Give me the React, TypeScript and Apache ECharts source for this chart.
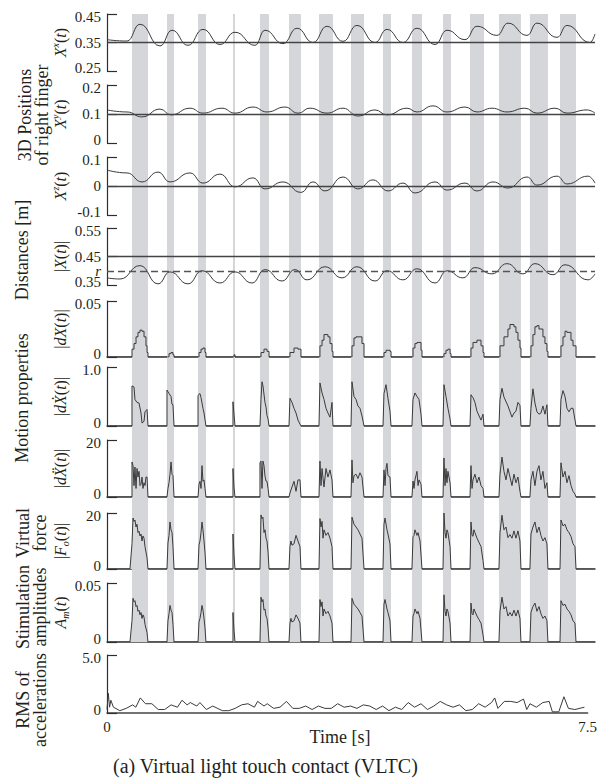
import React, { useEffect, useRef } from "react";
import * as echarts from "echarts";

const FONT = "'Liberation Serif', 'Times New Roman', Times, serif";
const BAND_COLOR = "#d5d6d9";
const LINE_COLOR = "#3a3a3a";
const AXIS_COLOR = "#2e2e2e";
const TEXT_COLOR = "#231f20";

// ---- data (time in seconds) ----
const TIME_MIN = 0;
const TIME_MAX = 7.5;
const TIME_TICKS = [0, 7.5];

const CONTACT_BANDS: [number, number][] = [
  [0.384, 0.63], [0.922, 1.03], [1.399, 1.521], [1.936, 1.967], [2.351, 2.49],
  [2.797, 2.981], [3.258, 3.473], [3.75, 3.95], [4.242, 4.365], [4.687, 4.841],
  [5.164, 5.287], [5.579, 5.794], [6.024, 6.362], [6.5, 6.777], [6.962, 7.208],
];

const POS_X: [number, number][] = [
  [0, 0.36], [0.307, 0.355], [0.507, 0.414], [0.815, 0.338], [0.999, 0.393], [1.245, 0.34],
  [1.475, 0.396], [1.737, 0.343], [1.967, 0.386], [2.274, 0.34], [2.428, 0.393], [2.705, 0.346],
  [2.92, 0.4], [3.166, 0.35], [3.381, 0.407], [3.627, 0.354], [3.842, 0.41], [4.119, 0.35],
  [4.303, 0.396], [4.549, 0.35], [4.764, 0.4], [5.041, 0.343], [5.225, 0.393], [5.502, 0.36],
  [5.686, 0.407], [5.993, 0.375], [6.163, 0.418], [6.455, 0.375], [6.608, 0.418], [6.916, 0.368],
  [7.069, 0.41], [7.423, 0.35], [7.5, 0.38],
];

const POS_Y: [number, number][] = [
  [0, 0.114], [0.307, 0.107], [0.538, 0.09], [0.815, 0.117], [0.984, 0.097], [1.276, 0.12],
  [1.475, 0.103], [1.767, 0.12], [1.967, 0.103], [2.244, 0.124], [2.459, 0.107], [2.736, 0.124],
  [2.935, 0.103], [3.12, 0.12], [3.381, 0.103], [3.627, 0.12], [3.857, 0.093], [4.119, 0.114],
  [4.303, 0.097], [4.61, 0.12], [4.764, 0.107], [5.01, 0.128], [5.225, 0.107], [5.502, 0.124],
  [5.686, 0.107], [5.917, 0.12], [6.147, 0.107], [6.424, 0.12], [6.608, 0.103], [6.885, 0.12],
  [7.069, 0.103], [7.377, 0.114], [7.5, 0.103],
];

const POS_Z: [number, number][] = [
  [0, 0.055], [0.307, 0.045], [0.538, 0.014], [0.784, 0.048], [0.968, 0.014], [1.276, 0.045],
  [1.475, 0.01], [1.737, 0.041], [1.967, -0.003], [2.244, 0.028], [2.428, -0.01], [2.705, 0.014],
  [2.98, -0.022], [3.166, 0.014], [3.35, -0.017], [3.627, 0.031], [3.857, -0.01], [4.088, 0.021],
  [4.318, -0.017], [4.549, 0.01], [4.733, -0.024], [5.041, 0.014], [5.225, -0.014], [5.502, 0.01],
  [5.686, -0.017], [5.932, 0.014], [6.163, -0.007], [6.455, 0.031], [6.608, 0.003], [6.916, 0.034],
  [7.069, 0.007], [7.393, 0.034], [7.5, 0.01],
];

const DIST: [number, number][] = [
  [0, 0.375], [0.2, 0.371], [0.507, 0.418], [0.784, 0.354], [0.968, 0.396], [1.245, 0.354],
  [1.46, 0.4], [1.737, 0.357], [1.967, 0.396], [2.228, 0.357], [2.428, 0.404], [2.69, 0.364],
  [2.889, 0.404], [3.074, 0.368], [3.35, 0.414], [3.611, 0.375], [3.842, 0.414], [4.119, 0.364],
  [4.303, 0.4], [4.549, 0.368], [4.764, 0.407], [5.041, 0.357], [5.225, 0.4], [5.471, 0.375],
  [5.655, 0.411], [5.917, 0.389], [6.147, 0.425], [6.393, 0.389], [6.577, 0.425], [6.854, 0.386],
  [7.039, 0.421], [7.393, 0.368], [7.5, 0.389],
];
const R_DIST = 0.397;

const DX: [number, number][] = [
  [0, 0], [0.384, 0], [0.384, 0.007], [0.415, 0.012], [0.446, 0.018], [0.476, 0.022], [0.507, 0.024],
  [0.538, 0.023], [0.569, 0.018], [0.599, 0.01], [0.615, 0.004], [0.63, 0],
  [0.937, 0], [0.953, 0.003], [0.984, 0.004], [1.014, 0.002], [1.03, 0],
  [1.399, 0], [1.414, 0.004], [1.445, 0.007], [1.475, 0.008], [1.506, 0.004], [1.521, 0],
  [1.936, 0], [1.952, 0.002], [1.967, 0],
  [2.351, 0], [2.367, 0.004], [2.413, 0.007], [2.459, 0.005], [2.49, 0],
  [2.797, 0], [2.812, 0.004], [2.874, 0.008], [2.935, 0.007], [2.981, 0],
  [3.258, 0], [3.273, 0.01], [3.305, 0.015], [3.335, 0.02], [3.366, 0.02], [3.396, 0.018],
  [3.427, 0.012], [3.458, 0.005], [3.473, 0],
  [3.75, 0], [3.765, 0.01], [3.796, 0.017], [3.827, 0.018], [3.888, 0.018], [3.919, 0.012], [3.95, 0],
  [4.242, 0], [4.257, 0.004], [4.288, 0.006], [4.349, 0.005], [4.365, 0],
  [4.687, 0], [4.703, 0.008], [4.733, 0.012], [4.764, 0.013], [4.826, 0.006], [4.841, 0],
  [5.164, 0], [5.179, 0.003], [5.21, 0.006], [5.24, 0.007], [5.272, 0.003], [5.287, 0],
  [5.579, 0], [5.594, 0.008], [5.625, 0.013], [5.686, 0.015], [5.748, 0.01], [5.779, 0.004], [5.794, 0],
  [6.024, 0], [6.04, 0.01], [6.101, 0.018], [6.162, 0.025], [6.193, 0.029], [6.255, 0.027],
  [6.285, 0.022], [6.316, 0.015], [6.347, 0.008], [6.362, 0],
  [6.5, 0], [6.516, 0.01], [6.546, 0.02], [6.577, 0.027], [6.608, 0.028], [6.639, 0.025],
  [6.7, 0.018], [6.731, 0.012], [6.761, 0.005], [6.777, 0],
  [6.962, 0], [6.977, 0.01], [7.008, 0.018], [7.039, 0.023], [7.069, 0.022], [7.131, 0.015],
  [7.162, 0.01], [7.208, 0], [7.5, 0],
];

const DXDOT: [number, number][] = [
  [0, 0], [0.384, 0], [0.384, 0.68], [0.415, 0.66], [0.43, 0.45], [0.461, 0.4], [0.492, 0.39],
  [0.523, 0.22], [0.538, 0.05], [0.569, 0.08], [0.584, 0.24], [0.615, 0.28], [0.63, 0],
  [0.922, 0], [0.922, 0.61], [0.953, 0.55], [0.984, 0.5], [0.999, 0.37], [1.014, 0.36], [1.03, 0],
  [1.399, 0], [1.399, 0.52], [1.429, 0.55], [1.445, 0.48], [1.475, 0.3], [1.491, 0.22], [1.521, 0],
  [1.936, 0], [1.936, 0.41], [1.952, 0.2], [1.967, 0],
  [2.351, 0], [2.367, 0.45], [2.382, 0.75], [2.397, 0.68], [2.428, 0.4], [2.444, 0.32],
  [2.459, 0.18], [2.475, 0.12], [2.49, 0],
  [2.797, 0], [2.812, 0.47], [2.843, 0.4], [2.874, 0.3], [2.905, 0.22], [2.935, 0.1], [2.981, 0],
  [3.258, 0], [3.273, 0.73], [3.305, 0.56], [3.335, 0.45], [3.366, 0.3], [3.396, 0.22],
  [3.427, 0.15], [3.458, 0.4], [3.473, 0],
  [3.75, 0], [3.765, 0.75], [3.796, 0.5], [3.827, 0.45], [3.857, 0.34], [3.888, 0.3], [3.919, 0.17], [3.95, 0],
  [4.242, 0], [4.257, 0.55], [4.288, 0.7], [4.318, 0.47], [4.349, 0.25], [4.365, 0],
  [4.687, 0], [4.703, 0.45], [4.733, 0.56], [4.764, 0.5], [4.795, 0.45], [4.826, 0.2], [4.841, 0],
  [5.164, 0], [5.179, 0.7], [5.21, 0.5], [5.24, 0.3], [5.272, 0.12], [5.287, 0],
  [5.579, 0], [5.594, 0.53], [5.625, 0.48], [5.655, 0.4], [5.686, 0.25], [5.748, 0.1], [5.779, 0.2], [5.794, 0],
  [6.024, 0], [6.04, 0.45], [6.07, 0.64], [6.101, 0.49], [6.162, 0.34], [6.224, 0.15], [6.255, 0.22],
  [6.285, 0.25], [6.316, 0.4], [6.347, 0.35], [6.362, 0],
  [6.5, 0], [6.516, 0.3], [6.546, 0.63], [6.577, 0.39], [6.608, 0.24], [6.639, 0.2], [6.669, 0.22],
  [6.7, 0.34], [6.731, 0.2], [6.761, 0.36], [6.777, 0],
  [6.962, 0], [6.977, 0.45], [7.008, 0.6], [7.039, 0.5], [7.069, 0.3], [7.1, 0.24], [7.131, 0.3],
  [7.162, 0.3], [7.208, 0], [7.5, 0],
];

const DXDDOT: [number, number][] = [
  [0, 0], [0.384, 0], [0.384, 12.3], [0.4, 11], [0.415, 4], [0.43, 10.5], [0.446, 3], [0.461, 10],
  [0.476, 7], [0.492, 9], [0.507, 4], [0.523, 4.5], [0.538, 7], [0.553, 3], [0.569, 5], [0.584, 4],
  [0.599, 7], [0.615, 7], [0.63, 0],
  [0.922, 0], [0.937, 3], [0.953, 5], [0.968, 8], [0.984, 12.3], [0.999, 8], [1.014, 7.5], [1.03, 0],
  [1.399, 0], [1.414, 4.5], [1.429, 5.5], [1.445, 3], [1.46, 11], [1.475, 5.5], [1.491, 6], [1.506, 3], [1.521, 0],
  [1.936, 0], [1.936, 10], [1.952, 3.5], [1.967, 0],
  [2.351, 0], [2.351, 12], [2.367, 12.6], [2.382, 3], [2.397, 12.6], [2.413, 11], [2.428, 7.4],
  [2.444, 5.6], [2.459, 5.5], [2.475, 3], [2.49, 0],
  [2.797, 0], [2.812, 1.4], [2.843, 3.5], [2.874, 5.5], [2.905, 2], [2.935, 6], [2.966, 6], [2.981, 0],
  [3.258, 0], [3.273, 12.6], [3.289, 4], [3.305, 10], [3.335, 3.5], [3.366, 10], [3.396, 7],
  [3.427, 9.5], [3.458, 6], [3.473, 0],
  [3.75, 0], [3.765, 13], [3.78, 5], [3.796, 7.5], [3.827, 8], [3.857, 6.5], [3.888, 8.5], [3.919, 7], [3.95, 0],
  [4.242, 0], [4.257, 9.5], [4.273, 4], [4.288, 10], [4.303, 11.8], [4.318, 7.5], [4.349, 7], [4.365, 0],
  [4.687, 0], [4.703, 5.6], [4.718, 3], [4.733, 6], [4.764, 9], [4.78, 4], [4.795, 6], [4.826, 4.5], [4.841, 0],
  [5.164, 0], [5.179, 13.7], [5.195, 4], [5.21, 10], [5.225, 5], [5.24, 9], [5.272, 5], [5.287, 0],
  [5.579, 0], [5.594, 11], [5.61, 3], [5.625, 6], [5.655, 8], [5.686, 5], [5.717, 7], [5.748, 4],
  [5.779, 3], [5.794, 0],
  [6.024, 0], [6.04, 8], [6.07, 14], [6.101, 9], [6.132, 6], [6.162, 10], [6.193, 7], [6.224, 4],
  [6.255, 8], [6.285, 5], [6.316, 7], [6.347, 2], [6.362, 0],
  [6.5, 0], [6.516, 6], [6.546, 9], [6.577, 4], [6.608, 9], [6.639, 11], [6.669, 6], [6.7, 9],
  [6.731, 3], [6.761, 5], [6.777, 0],
  [6.962, 0], [6.977, 12], [7.008, 7], [7.039, 9], [7.069, 5], [7.1, 7.5], [7.131, 4], [7.162, 2],
  [7.192, 1], [7.208, 0], [7.5, 0],
];

const FORCE: [number, number][] = [
  [0, 0], [0.353, 0], [0.384, 9], [0.4, 18.2], [0.415, 17], [0.43, 17.5], [0.446, 15], [0.461, 16],
  [0.476, 13], [0.492, 13.5], [0.507, 11.8], [0.523, 12.5], [0.538, 10], [0.553, 11.8], [0.569, 11],
  [0.584, 8], [0.615, 4], [0.63, 0],
  [0.922, 0], [0.937, 9.3], [0.953, 12], [0.968, 16.8], [0.984, 14], [0.999, 13], [1.014, 8], [1.03, 0],
  [1.399, 0], [1.414, 8.6], [1.429, 10], [1.445, 13], [1.46, 16.8], [1.475, 14], [1.491, 10], [1.506, 6], [1.521, 0],
  [1.936, 0], [1.936, 12.5], [1.952, 5], [1.967, 0],
  [2.351, 0], [2.367, 19.3], [2.382, 18], [2.397, 18.5], [2.413, 13], [2.428, 14], [2.444, 11],
  [2.459, 10], [2.475, 6], [2.49, 0],
  [2.797, 0], [2.812, 8], [2.827, 10], [2.843, 8.5], [2.874, 9], [2.905, 12], [2.935, 10], [2.966, 8], [2.981, 0],
  [3.258, 0], [3.273, 18], [3.289, 15], [3.305, 17], [3.32, 11], [3.335, 14], [3.366, 12], [3.396, 13],
  [3.427, 11], [3.458, 8], [3.473, 0],
  [3.75, 0], [3.765, 18.5], [3.796, 16], [3.827, 15], [3.857, 14], [3.888, 12.5], [3.919, 11], [3.95, 0],
  [4.242, 0], [4.257, 16], [4.273, 18.2], [4.303, 14], [4.318, 12.5], [4.349, 9], [4.365, 0],
  [4.687, 0], [4.703, 11.5], [4.718, 12], [4.733, 14], [4.764, 12], [4.78, 13], [4.811, 10], [4.841, 0],
  [5.164, 0], [5.179, 20], [5.195, 13], [5.21, 11], [5.225, 14], [5.24, 13], [5.272, 8], [5.287, 0],
  [5.579, 0], [5.594, 16.8], [5.61, 12], [5.625, 11.7], [5.64, 14], [5.655, 13], [5.686, 11],
  [5.717, 9.5], [5.748, 8], [5.779, 3], [5.794, 0],
  [6.024, 0], [6.04, 13], [6.07, 19.2], [6.101, 14], [6.132, 15], [6.162, 11.2], [6.193, 12.3],
  [6.224, 11], [6.255, 13.6], [6.285, 11], [6.316, 13.6], [6.347, 10], [6.362, 0],
  [6.5, 0], [6.516, 12.5], [6.546, 15], [6.577, 16.8], [6.608, 13], [6.639, 15], [6.669, 12],
  [6.7, 10], [6.731, 11.2], [6.761, 9], [6.777, 0],
  [6.962, 0], [6.977, 17.5], [7.008, 15.4], [7.039, 16], [7.069, 14], [7.1, 13], [7.131, 11.6],
  [7.162, 9], [7.192, 8], [7.208, 0], [7.5, 0],
];

const AMP: [number, number][] = [
  [0, 0], [0.353, 0], [0.384, 0.018], [0.4, 0.037], [0.415, 0.034], [0.43, 0.035], [0.446, 0.03],
  [0.461, 0.031], [0.476, 0.026], [0.492, 0.027], [0.507, 0.023], [0.523, 0.025], [0.538, 0.02],
  [0.553, 0.023], [0.569, 0.021], [0.584, 0.015], [0.615, 0.008], [0.63, 0],
  [0.922, 0], [0.937, 0.018], [0.953, 0.024], [0.968, 0.031], [0.984, 0.027], [0.999, 0.025], [1.014, 0.015], [1.03, 0],
  [1.399, 0], [1.414, 0.017], [1.429, 0.02], [1.445, 0.025], [1.46, 0.031], [1.475, 0.027],
  [1.491, 0.02], [1.506, 0.012], [1.521, 0],
  [1.936, 0], [1.936, 0.025], [1.952, 0.01], [1.967, 0],
  [2.351, 0], [2.367, 0.038], [2.382, 0.034], [2.397, 0.036], [2.413, 0.027], [2.428, 0.028],
  [2.444, 0.022], [2.459, 0.02], [2.475, 0.012], [2.49, 0],
  [2.797, 0], [2.812, 0.016], [2.827, 0.02], [2.843, 0.017], [2.874, 0.018], [2.905, 0.023],
  [2.935, 0.02], [2.966, 0.016], [2.981, 0],
  [3.258, 0], [3.273, 0.036], [3.289, 0.03], [3.305, 0.034], [3.32, 0.022], [3.335, 0.028],
  [3.366, 0.024], [3.396, 0.026], [3.427, 0.022], [3.458, 0.016], [3.473, 0],
  [3.75, 0], [3.765, 0.037], [3.796, 0.032], [3.827, 0.03], [3.857, 0.028], [3.888, 0.025], [3.919, 0.022], [3.95, 0],
  [4.242, 0], [4.257, 0.032], [4.273, 0.036], [4.303, 0.028], [4.318, 0.025], [4.349, 0.018], [4.365, 0],
  [4.687, 0], [4.703, 0.022], [4.718, 0.024], [4.733, 0.028], [4.764, 0.024], [4.78, 0.026], [4.811, 0.02], [4.841, 0],
  [5.164, 0], [5.179, 0.04], [5.195, 0.026], [5.21, 0.022], [5.225, 0.028], [5.24, 0.026], [5.272, 0.016], [5.287, 0],
  [5.579, 0], [5.594, 0.033], [5.61, 0.024], [5.625, 0.023], [5.64, 0.028], [5.655, 0.026],
  [5.686, 0.022], [5.717, 0.019], [5.748, 0.016], [5.779, 0.006], [5.794, 0],
  [6.024, 0], [6.04, 0.026], [6.07, 0.038], [6.101, 0.028], [6.132, 0.03], [6.162, 0.022],
  [6.193, 0.025], [6.224, 0.022], [6.255, 0.027], [6.285, 0.022], [6.316, 0.027], [6.347, 0.02], [6.362, 0],
  [6.5, 0], [6.516, 0.025], [6.546, 0.03], [6.577, 0.033], [6.608, 0.026], [6.639, 0.03],
  [6.669, 0.024], [6.7, 0.02], [6.731, 0.022], [6.761, 0.018], [6.777, 0],
  [6.962, 0], [6.977, 0.035], [7.008, 0.031], [7.039, 0.032], [7.069, 0.028], [7.1, 0.026],
  [7.131, 0.023], [7.162, 0.018], [7.192, 0.016], [7.208, 0], [7.5, 0],
];

const RMS: [number, number][] = [
  [0, 0.3], [0.02, 1.7], [0.04, 0.5], [0.06, 1.1], [0.1, 0.5], [0.2, 0.2], [0.3, 0.4], [0.4, 0.7],
  [0.45, 0.5], [0.52, 1.3], [0.6, 0.8], [0.7, 0.8], [0.8, 0.3], [0.9, 0.3], [1.0, 0.7], [1.1, 0.5],
  [1.17, 1.1], [1.25, 0.7], [1.3, 0.9], [1.4, 0.6], [1.45, 0.9], [1.55, 0.3], [1.65, 0.6], [1.8, 0.2],
  [1.9, 0.2], [2.0, 0.4], [2.1, 0.7], [2.2, 0.8], [2.3, 0.5], [2.35, 1.0], [2.45, 0.6], [2.5, 0.8],
  [2.6, 0.4], [2.7, 0.5], [2.8, 1.0], [2.9, 0.4], [3.0, 0.4], [3.1, 0.6], [3.2, 0.3], [3.3, 0.6],
  [3.4, 0.4], [3.5, 0.4], [3.6, 0.8], [3.7, 0.5], [3.8, 0.6], [3.9, 0.4], [4.0, 0.7], [4.1, 0.6],
  [4.2, 0.3], [4.3, 0.6], [4.4, 0.2], [4.5, 0.5], [4.6, 0.3], [4.7, 0.9], [4.8, 0.5], [4.9, 0.8],
  [5.0, 0.3], [5.1, 0.6], [5.2, 1.0], [5.3, 0.7], [5.4, 0.5], [5.5, 0.7], [5.6, 0.2], [5.7, 0.3],
  [5.8, 0.8], [5.9, 0.5], [6.0, 0.9], [6.05, 1.3], [6.1, 0.4], [6.2, 1.0], [6.3, 1.0], [6.4, 0.9],
  [6.5, 1.2], [6.55, 0.3], [6.6, 0.8], [6.7, 0.5], [6.8, 0.9], [6.9, 1.0], [6.95, 0.1], [7.05, 0.1],
  [7.13, 1.4], [7.2, 0.4], [7.3, 0.3], [7.45, 0.5],
];

type Panel = {
  top: number; bottom: number; min: number; max: number; ticks: number[]; dec: number;
  name: string; data: [number, number][]; kind: "pos" | "motion" | "rms"; step?: boolean;
  refs?: number[]; rRef?: number;
};

const PANELS: Panel[] = [
  { top: 14, bottom: 71, min: 0.25, max: 0.45, ticks: [0.25, 0.35, 0.45], dec: 2, name: "{i|X}{sup|x}({i|t})", data: POS_X, kind: "pos", refs: [0.35] },
  { top: 85, bottom: 143, min: 0, max: 0.2, ticks: [0, 0.1, 0.2], dec: 1, name: "{i|X}{sup|y}({i|t})", data: POS_Y, kind: "pos", refs: [0.1] },
  { top: 157, bottom: 215, min: -0.1, max: 0.1, ticks: [-0.1, 0, 0.1], dec: 1, name: "{i|X}{sup|z}({i|t})", data: POS_Z, kind: "pos", refs: [0] },
  { top: 228, bottom: 285, min: 0.35, max: 0.55, ticks: [0.35, 0.45, 0.55], dec: 2, name: "|{i|X}({i|t})|", data: DIST, kind: "pos", refs: [0.45], rRef: R_DIST },
  { top: 301, bottom: 357, min: 0, max: 0.05, ticks: [0, 0.05], dec: 2, name: "|{i|dX}({i|t})|", data: DX, kind: "motion", step: true },
  { top: 367, bottom: 426, min: 0, max: 1, ticks: [0, 1], dec: 1, name: "|{i|d\u1E8A}({i|t})|", data: DXDOT, kind: "motion" },
  { top: 440, bottom: 497, min: 0, max: 20, ticks: [0, 20], dec: 0, name: "|{i|d\u1E8C}({i|t})|", data: DXDDOT, kind: "motion" },
  { top: 513, bottom: 569, min: 0, max: 20, ticks: [0, 20], dec: 0, name: "|{i|F}{sub|o}({i|t})|", data: FORCE, kind: "motion" },
  { top: 583, bottom: 642, min: 0, max: 0.05, ticks: [0, 0.05], dec: 2, name: "{i|A}{sub|m}({i|t})", data: AMP, kind: "motion" },
  { top: 655, bottom: 713, min: 0, max: 5, ticks: [0, 5], dec: 1, name: "", data: RMS, kind: "rms" },
];

const GROUP_LABELS = [
  { text: "3D Positions\nof right finger", x: 33, y: 115 },
  { text: "Distances [m]", x: 22, y: 250 },
  { text: "Motion properties", x: 22, y: 398 },
  { text: "Virtual\nforce", x: 31, y: 533 },
  { text: "Stimulation\namplitudes", x: 31, y: 607 },
  { text: "RMS of\naccelerations", x: 31, y: 700 },
];

const X_TITLE = "Time [s]";
const CAPTION = "(a) Virtual light touch contact (VLTC)";

export default function App() {
  const ref = useRef<HTMLDivElement>(null);
  useEffect(() => {
    document.body.style.margin = "0";
    if (!ref.current) return;
    const chart = echarts.init(ref.current, null, { renderer: "svg" });
    const LEFT = 107;
    const RIGHT = 5;
    const grids: any[] = [];
    const xAxes: any[] = [];
    const yAxes: any[] = [];
    const series: any[] = [];
    const labelRich = {
      mx: { fontFamily: FONT, fontSize: 15, color: TEXT_COLOR, padding: [6, 0, 0, 0] },
      mn: { fontFamily: FONT, fontSize: 15, color: TEXT_COLOR, padding: [0, 0, 6, 0] },
    };

    PANELS.forEach((p, i) => {
      grids.push({ left: LEFT, right: RIGHT, top: p.top, height: p.bottom - p.top });
      const showX = p.kind !== "pos";
      xAxes.push({
        gridIndex: i, type: "value", min: TIME_MIN, max: TIME_MAX, show: showX,
        axisLine: { show: true, onZero: false, lineStyle: { color: "#444", width: 1.5 } },
        axisTick: { show: false },
        splitLine: { show: false },
        axisLabel: {
          show: i === PANELS.length - 1, customValues: TIME_TICKS, margin: 6,
          fontFamily: FONT, fontSize: 15, color: TEXT_COLOR,
          formatter: (v: number) => (v === 0 ? "0" : String(v)),
        },
      });
      yAxes.push({
        gridIndex: i, type: "value", min: p.min, max: p.max,
        axisLine: { show: true, lineStyle: { color: AXIS_COLOR, width: 1.2 } },
        axisTick: { show: true, inside: true, length: 10, customValues: p.ticks, lineStyle: { color: AXIS_COLOR, width: 1.2 } },
        splitLine: { show: false },
        axisLabel: {
          customValues: p.ticks, margin: 6, fontFamily: FONT, fontSize: 15, color: TEXT_COLOR,
          rich: labelRich,
          formatter: (v: number) => {
            const s = Math.abs(v) < 1e-9 ? "0" : v.toFixed(p.dec);
            if (Math.abs(v - p.max) < 1e-9) return "{mx|" + s + "}";
            if (Math.abs(v - p.min) < 1e-9) return "{mn|" + s + "}";
            return s;
          },
        },
        name: p.name, nameLocation: "middle", nameRotate: 90, nameGap: 37, nameMoveOverlap: false,
        nameTextStyle: {
          fontFamily: FONT, fontSize: 16, color: TEXT_COLOR, lineHeight: 20,
          rich: {
            i: { fontFamily: FONT, fontSize: 16, fontStyle: "italic", color: TEXT_COLOR, lineHeight: 20 },
            sup: { fontFamily: FONT, fontSize: 10, fontStyle: "italic", color: TEXT_COLOR, verticalAlign: "top", lineHeight: 12 },
            sub: { fontFamily: FONT, fontSize: 10, fontStyle: "italic", color: TEXT_COLOR, verticalAlign: "bottom", lineHeight: 12 },
          },
        },
      });
      const markLineData: any[] = (p.refs || []).map((v) => ({ yAxis: v }));
      if (p.rRef !== undefined) {
        markLineData.push({
          yAxis: p.rRef,
          lineStyle: { type: [7, 4], color: "#555", width: 1.3 },
          label: { show: true, position: "start", formatter: "r", distance: 6, fontFamily: FONT, fontStyle: "italic", fontSize: 15, lineHeight: 10, color: TEXT_COLOR },
        });
      }
      series.push({
        type: "line", xAxisIndex: i, yAxisIndex: i, data: p.data, z: 3,
        symbol: "none", showSymbol: false,
        step: p.step ? "end" : false,
        smooth: p.kind === "pos" ? 0.5 : false,
        smoothMonotone: p.kind === "pos" ? "x" : undefined,
        lineStyle: { color: LINE_COLOR, width: 1 },
        areaStyle: p.kind === "motion" ? { color: BAND_COLOR, opacity: 1 } : undefined,
        markLine: markLineData.length
          ? { silent: true, symbol: ["none", "none"], label: { show: false }, lineStyle: { color: "#444", width: 1.3, type: "solid" }, data: markLineData }
          : undefined,
      });
    });

    // full-height grid for contact bands
    const bi = PANELS.length;
    grids.push({ left: LEFT, right: RIGHT, top: PANELS[0].top, height: PANELS[8].bottom - PANELS[0].top });
    xAxes.push({ gridIndex: bi, type: "value", min: TIME_MIN, max: TIME_MAX, show: false });
    yAxes.push({ gridIndex: bi, type: "value", min: 0, max: 1, show: false });
    series.push({
      type: "line", xAxisIndex: bi, yAxisIndex: bi, data: [[0, -1]], z: 0, symbol: "none",
      lineStyle: { opacity: 0 },
      markArea: {
        silent: true, itemStyle: { color: BAND_COLOR },
        data: CONTACT_BANDS.map(([a, b]) => [{ xAxis: a }, { xAxis: b }]),
      },
    });

    const graphic: any[] = GROUP_LABELS.map((g) => ({
      type: "text", x: g.x, y: g.y, rotation: Math.PI / 2,
      style: { text: g.text, fontFamily: FONT, fontSize: 18, fill: TEXT_COLOR, align: "center", verticalAlign: "middle", lineHeight: 17 },
    }));
    graphic.push({ type: "text", x: 340, y: 737, style: { text: X_TITLE, fontFamily: FONT, fontSize: 18, fill: TEXT_COLOR, align: "center", verticalAlign: "middle" } });
    graphic.push({ type: "text", x: 113, y: 766, style: { text: CAPTION, fontFamily: FONT, fontSize: 20, fill: TEXT_COLOR, align: "left", verticalAlign: "middle" } });

    chart.setOption({
      animation: false,
      backgroundColor: "#ffffff",
      grid: grids, xAxis: xAxes, yAxis: yAxes, series, graphic,
    });
    return () => chart.dispose();
  }, []);
  return <div ref={ref} style={{ width: 600, height: 781 }} />;
}
